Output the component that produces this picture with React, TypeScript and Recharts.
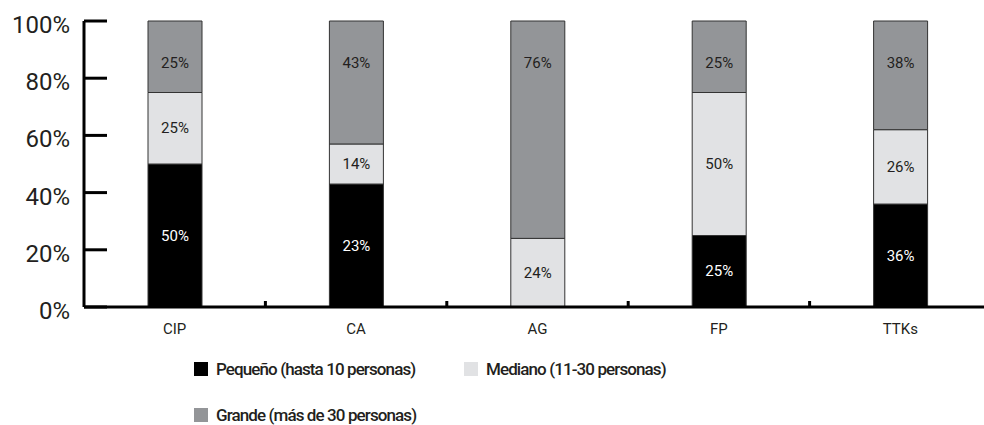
import { BarChart, Bar, XAxis, YAxis, LabelList } from "recharts"

const categories = ["CIP", "CA", "AG", "FP", "TTKs"]
const pequeno = [50, 43, 0, 25, 36]
const mediano = [25, 14, 24, 50, 26]
const grande = [25, 43, 76, 25, 38]
// etiquetas tal como aparecen en el gráfico
const pequenoLabels = ["50%", "23%", "", "25%", "36%"]
const medianoLabels = ["25%", "14%", "24%", "50%", "26%"]
const grandeLabels = ["25%", "43%", "76%", "25%", "38%"]
const yTicks = [0, 20, 40, 60, 80, 100]

const COLORS = {
  pequeno: "#000000",
  mediano: "#e1e2e4",
  grande: "#939598",
}

const FONT = "Roboto, 'DejaVu Sans', sans-serif"
const TEXT = "#231f20"
const X_TICK_MARGIN = 16

const data = categories.map((name, i) => ({
  name,
  p: pequeno[i],
  m: mediano[i],
  g: grande[i],
  pl: pequenoLabels[i],
  ml: medianoLabels[i],
  gl: grandeLabels[i],
}))

const legendItems = [
  { label: "Pequeño (hasta 10 personas)", color: COLORS.pequeno },
  { label: "Mediano (11-30 personas)", color: COLORS.mediano },
  { label: "Grande (más de 30 personas)", color: COLORS.grande },
]

const YTick = ({ x, y, payload }: any) => (
  <text x={x} y={y} dy={4} textAnchor="end" dominantBaseline="central" fill={TEXT} fontSize={24} fontFamily={FONT}>
    {payload.value}%
  </text>
)

// etiqueta de categoría + marca pequeña en el límite derecho de cada banda
const XTick = ({ x, y, payload, index }: any) => {
  const half = payload?.offset || 0
  const axisY = y - X_TICK_MARGIN
  return (
    <g>
      {index < categories.length - 1 && half > 0 && (
        <line x1={x + half} x2={x + half} y1={axisY} y2={axisY - 6} stroke="#000" strokeWidth={3} />
      )}
      <text x={x} y={y} dy={11} textAnchor="middle" fill={TEXT} fontSize={15} fontFamily={FONT}>
        {payload.value}
      </text>
    </g>
  )
}

const makeLabel = (fill: string, mode: "center" | "top") => (props: any) => {
  const { x, y, width, height, value } = props
  if (!value || !height) return null
  const cy = mode === "top" ? y + 42 : y + height / 2
  return (
    <text x={x + width / 2} y={cy} textAnchor="middle" dominantBaseline="central" fill={fill} fontSize={15} fontFamily={FONT}>
      {value}
    </text>
  )
}

export default function App() {
  return (
    <div style={{ position: "absolute", left: 0, top: 0, width: 984, height: 425, overflow: "hidden", background: "#fff" }}>
      <BarChart width={992} height={425} data={data} margin={{ top: 21, right: 1, left: 0, bottom: 88 }} barSize={54}>
        <XAxis
          dataKey="name"
          height={30}
          tickLine={false}
          tickSize={0}
          tickMargin={X_TICK_MARGIN}
          axisLine={{ stroke: "#000", strokeWidth: 3 }}
          tick={<XTick />}
          interval={0}
        />
        <YAxis
          width={84}
          domain={[0, 100]}
          ticks={yTicks}
          interval={0}
          tickSize={-23}
          tickMargin={37}
          tick={<YTick />}
          axisLine={{ stroke: "#000", strokeWidth: 3 }}
          tickLine={{ stroke: "#000", strokeWidth: 3 }}
        />
        <Bar dataKey="p" stackId="a" fill={COLORS.pequeno} stroke="#333" strokeWidth={1} isAnimationActive={false}>
          <LabelList dataKey="pl" content={makeLabel("#ffffff", "center")} />
        </Bar>
        <Bar dataKey="m" stackId="a" fill={COLORS.mediano} stroke="#333" strokeWidth={1} isAnimationActive={false}>
          <LabelList dataKey="ml" content={makeLabel(TEXT, "center")} />
        </Bar>
        <Bar dataKey="g" stackId="a" fill={COLORS.grande} stroke="#333" strokeWidth={1} isAnimationActive={false}>
          <LabelList dataKey="gl" content={makeLabel(TEXT, "top")} />
        </Bar>
      </BarChart>
      {legendItems.map((item, i) => (
        <div
          key={item.label}
          style={{
            position: "absolute",
            left: i === 1 ? 464 : 194,
            top: i === 2 ? 408 : 362,
            display: "flex",
            alignItems: "center",
            fontFamily: FONT,
            fontSize: 17,
            fontWeight: 500,
            letterSpacing: -0.9,
            color: TEXT,
            whiteSpace: "nowrap",
            lineHeight: "14px",
          }}
        >
          <span style={{ display: "inline-block", width: 14, height: 14, background: item.color, marginRight: 8 }} />
          <span>{item.label}</span>
        </div>
      ))}
    </div>
  )
}
